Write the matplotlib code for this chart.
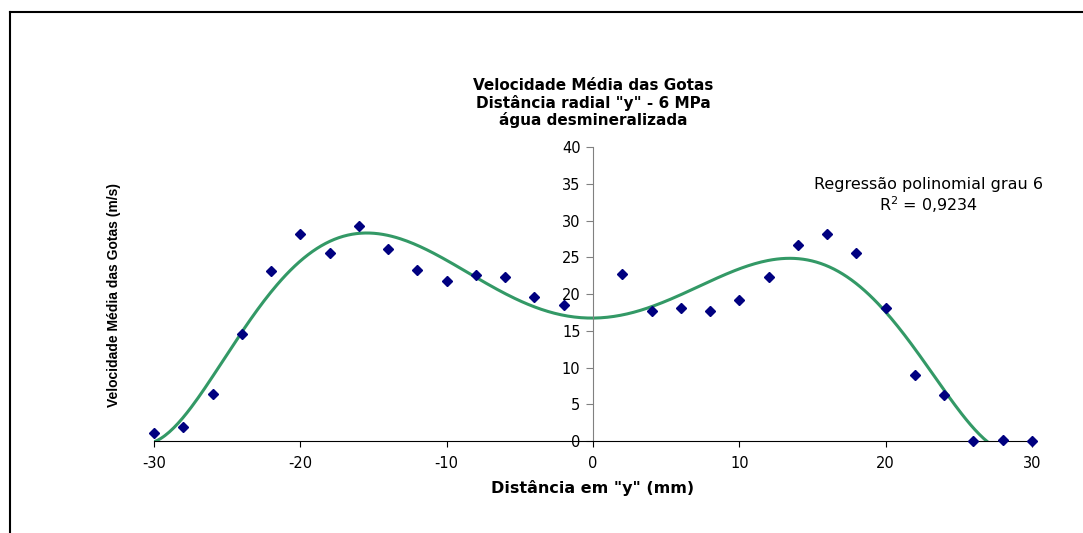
import numpy as np
import matplotlib.pyplot as plt
from matplotlib.lines import Line2D

# measured points (mm, m/s)
dist = [-30, -28, -26, -24, -22, -20, -18, -16, -14, -12, -10, -8, -6, -4, -2,
        2, 4, 6, 8, 10, 12, 14, 16, 18, 20, 22, 24, 26, 28, 30]
vel = [1.1, 1.9, 6.4, 14.6, 23.1, 28.2, 25.6, 29.2, 26.1, 23.3, 21.8, 22.6, 22.3, 19.6, 18.5,
       22.7, 17.7, 18.1, 17.7, 19.2, 22.3, 26.7, 28.2, 25.6, 18.1, 9.0, 6.3, 0.0, 0.1, 0.0]

xticks = [-30, -20, -10, 0, 10, 20, 30]
yticks = [0, 5, 10, 15, 20, 25, 30, 35, 40]

plt.rcParams['font.family'] = ['DejaVu Sans']
plt.rcParams['axes.unicode_minus'] = False

# 6th degree polynomial trend line
coef = np.polyfit(dist, vel, 6)
xs = np.linspace(-30, 30, 400)
ys = np.polyval(coef, xs)

fig = plt.figure(figsize=(10.83, 5.33), dpi=100)
ax = fig.add_axes([0.1422, 0.1726, 0.8107, 0.5516])

ax.plot(xs, ys, "-", color="#339966", lw=2.2)
ax.plot(dist, vel, "D", color="#000080", ms=5, clip_on=False, zorder=3)

ax.set_xlim(-30, 30)
ax.set_ylim(0, 40)
ax.set_xticks(xticks)
ax.set_yticks(yticks)
ax.spines['top'].set_visible(False)
ax.spines['right'].set_visible(False)
ax.spines['left'].set_position(('data', 0))
ax.spines['left'].set_color("#808080")
ax.spines['bottom'].set_color("#000000")
ax.tick_params(axis='y', direction='out', length=5, labelsize=10.5, color="#808080", pad=4)
ax.tick_params(axis='x', direction='out', length=4, labelsize=10.5, pad=7)

ax.set_xlabel('Distância em "y" (mm)', fontsize=11.5, fontweight='bold', labelpad=6)
fig.text(0.105, 0.446, "Velocidade Média das Gotas (m/s)", rotation=90, ha='center', va='center',
         fontsize=10, fontweight='bold', family='Liberation Sans')

fig.text(0.5475, 0.806, 'Velocidade Média das Gotas\nDistância radial "y" - 6 MPa\nágua desmineralizada',
         ha='center', va='center', fontsize=11, fontweight='bold', linespacing=1.12)

fig.text(0.857, 0.632, "Regressão polinomial grau 6\nR$^2$ = 0,9234",
         ha='center', va='center', fontsize=11.5, linespacing=1.1)

# outer frame (left and top only)
fig.add_artist(Line2D([0.0092, 0.0092], [0, 0.9775], color="black", lw=1.5, transform=fig.transFigure))
fig.add_artist(Line2D([0.0092, 1.0], [0.9775, 0.9775], color="black", lw=1.5, transform=fig.transFigure))

plt.savefig("out.png", dpi=100)
